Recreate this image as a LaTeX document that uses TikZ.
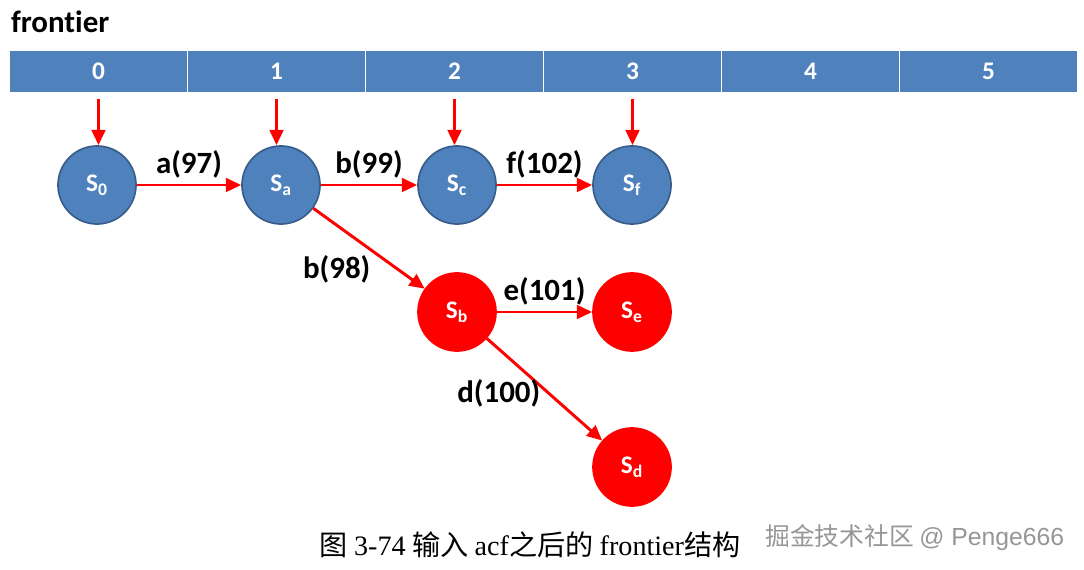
\documentclass[tikz,border=0pt]{standalone}
\usepackage{fontspec}
\setmainfont{Carlito}[Ligatures=NoCommon]
\newfontfamily\cjk{Noto Sans CJK SC}
\newfontfamily\tnr{Liberation Serif}
\newfontfamily\arial{Liberation Sans}
\usetikzlibrary{arrows.meta}
\definecolor{cellblue}{RGB}{79,129,189}
\definecolor{edgeblue}{RGB}{56,93,138}
\definecolor{mark}{RGB}{150,150,150}
\begin{document}
\begin{tikzpicture}[x=0.025cm, y=-0.025cm]
  \tikzstyle{cell}=[draw=white, line width=0.8pt, fill=cellblue, minimum width=4.45cm, minimum height=1.075cm, font=\fontsize{18}{20}\selectfont\bfseries, text=white, inner sep=0pt]
  \tikzstyle{state}=[circle, draw=edgeblue, line width=1.2pt, fill=cellblue, minimum size=1.95cm, inner sep=0pt, font=\fontsize{18}{20}\selectfont\bfseries, text=white]
  \tikzstyle{newstate}=[state, draw=red, fill=red]
  \tikzstyle{arr}=[red, line width=2.1pt, -{Triangle[length=3.8mm,width=3.4mm]}]
  \tikzstyle{lbl}=[font=\fontsize{22}{24}\selectfont\bfseries, text=black, inner sep=2pt]
  \useasboundingbox (0,0) rectangle (1084,570);

  % titulo
  \node[lbl, anchor=west] (title) at (8,22) {frontier};

  % vetor frontier
  \foreach \i in {0,...,5} {
    \node[cell] (c\i) at ({98.5+\i*178},71.5) {\i};
  }

  % estados
  \node[state] (s0) at (97,185) {S\textsubscript{0}};
  \node[state] (sa) at (281,185) {S\textsubscript{a}};
  \node[state] (sc) at (457,185) {S\textsubscript{c}};
  \node[state] (sf) at (632,185) {S\textsubscript{f}};
  \node[newstate] (sb) at (457,312) {S\textsubscript{b}};
  \node[newstate] (se) at (632,312) {S\textsubscript{e}};
  \node[newstate] (sd) at (632,467) {S\textsubscript{d}};

  % ponteiros do vetor
  \draw[arr, shorten <=4pt] (c0.south) -- (c0.south |- s0.north);
  \draw[arr, shorten <=4pt] (c1.south) -- (c1.south |- sa.north);
  \draw[arr, shorten <=4pt] (c2.south) -- (c2.south |- sc.north);
  \draw[arr, shorten <=4pt] (c3.south) -- (c3.south |- sf.north);

  % transicoes
  \draw[arr] (s0) -- node[lbl, above=2pt] {a(97)} (sa);
  \draw[arr] (sa) -- node[lbl, anchor=north east, xshift=4pt, yshift=-2pt] {b(98)} (sb);
  \draw[arr] (sa) -- node[lbl, above=2pt] {b(99)} (sc);
  \draw[arr] (sc) -- node[lbl, above=2pt] {f(102)} (sf);
  \draw[arr] (sb) -- node[lbl, above=2pt] {e(101)} (se);
  \draw[arr] (sb) -- node[lbl, anchor=east, yshift=-3pt] {d(100)} (sd);

  % legenda
  \node[font=\fontsize{20}{22}\selectfont] (cap) at (530,545) {{\cjk 图} {\tnr 3-74} {\cjk 输入} {\tnr acf}{\cjk 之后的} {\tnr frontier}{\cjk 结构}};
  \node[font=\fontsize{17.6}{19}\selectfont, text=mark, anchor=west, inner sep=0pt] (wm) at (765,538) {{\cjk 掘金技术社区} {\arial @ Penge666}};
\end{tikzpicture}
\end{document}
